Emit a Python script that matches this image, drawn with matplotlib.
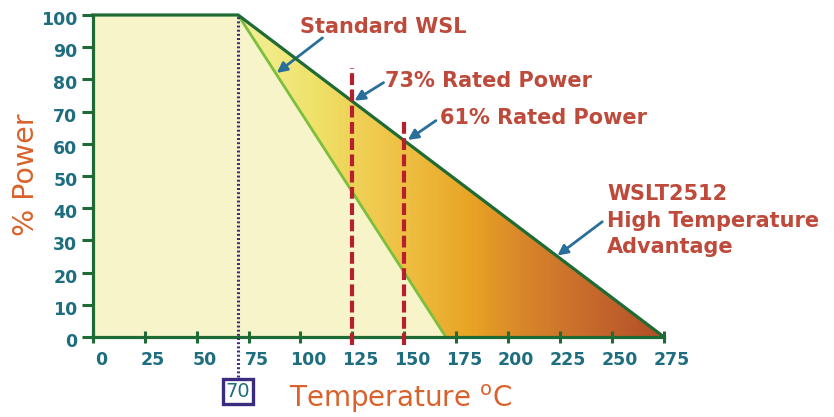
import numpy as np
import matplotlib
matplotlib.use("Agg")
import matplotlib.pyplot as plt
from matplotlib.colors import LinearSegmentedColormap
from matplotlib.patches import Polygon
from matplotlib.transforms import ScaledTranslation

# ---- data ----
wslt_temp = [0, 70, 275]
wslt_power = [100, 100, 0]
std_temp = [70, 170]
std_power = [100, 0]
marker_temps = [125, 150]
marker_tops = [83.5, 67.5]
knee_temp = 70
xticks = [0, 25, 50, 75, 100, 125, 150, 175, 200, 225, 250, 275]
yticks = [0, 10, 20, 30, 40, 50, 60, 70, 80, 90, 100]

# ---- style ----
DARK_GREEN = "#1e6b35"
LIGHT_GREEN = "#7dbe3c"
TEAL = "#1e6e80"
ORANGE = "#d9622b"
RED_TXT = "#bd4a3b"
RED_DASH = "#b81f2e"
BLUE = "#2a6e9a"
PURPLE = "#3a2a80"
PALE = "#f6f4c8"

plt.rcParams['lines.scale_dashes'] = False
plt.rcParams['font.family'] = ['DejaVu Sans']

fig = plt.figure(figsize=(8.34, 4.17), dpi=100)
L, R, B, T = 92.7 / 834, 664 / 834, (417 - 337) / 417, (417 - 15) / 417
ax = fig.add_axes([L, B, R - L, T - B])
ax.set_xlim(0, 275)
ax.set_ylim(0, 100)
ax.patch.set_alpha(0)

# pale fill under the standard curve
pale_poly = Polygon([(0, 0), (0, 100), (std_temp[0], std_power[0]),
                     (std_temp[1], std_power[1])], closed=True,
                    fc=PALE, ec='none', zorder=1)
ax.add_patch(pale_poly)

# gradient advantage region
adv_poly = Polygon([(wslt_temp[1], wslt_power[1]), (wslt_temp[2], wslt_power[2]),
                    (std_temp[1], std_power[1])], closed=True,
                   fc='none', ec='none', zorder=1)
ax.add_patch(adv_poly)
stops = [(0.00, (243, 240, 155)), (0.18, (239, 226, 105)), (0.27, (240, 210, 88)),
         (0.40, (238, 190, 65)), (0.55, (232, 163, 36)), (0.67, (216, 134, 42)),
         (0.78, (204, 114, 44)), (0.90, (190, 94, 42)), (1.00, (178, 76, 38))]
cmap = LinearSegmentedColormap.from_list(
    "adv", [(p, tuple(c / 255 for c in col)) for p, col in stops])
grad = np.linspace(0, 1, 512).reshape(1, -1)
im = ax.imshow(grad, cmap=cmap, aspect='auto',
               extent=(wslt_temp[1], wslt_temp[2], 0, 100), zorder=1.5,
               interpolation='bilinear')
im.set_clip_path(adv_poly)
ax.set_xlim(0, 275)
ax.set_ylim(0, 100)

# curves
ax.plot(std_temp, std_power, color=LIGHT_GREEN, lw=2.0, zorder=3,
        solid_capstyle='butt')
ax.plot(wslt_temp, wslt_power, color=DARK_GREEN, lw=2.3, zorder=4,
        clip_on=False, solid_joinstyle='miter')

# red dashed markers
for xt, top in zip(marker_temps, marker_tops):
    ax.plot([xt, xt], [-2.5, top], color=RED_DASH, lw=3.0,
            linestyle=(0, (8.5, 3.2)), zorder=5, clip_on=False)

# dotted knee line
ax.plot([knee_temp, knee_temp], [-12.4, 100], color=PURPLE, lw=2.2,
        linestyle=(0, (1.4, 1.6)), zorder=5, clip_on=False)
ax.text(knee_temp, -16.9, str(knee_temp), ha='center', va='center',
        fontsize=14, color=TEAL,
        bbox=dict(boxstyle='square,pad=0.15', fc='white', ec=PURPLE, lw=2.4),
        zorder=6, clip_on=False)

# spines and ticks
for s in ['top', 'right']:
    ax.spines[s].set_visible(False)
for s in ['left', 'bottom']:
    ax.spines[s].set_color(DARK_GREEN)
    ax.spines[s].set_linewidth(2.3)
    ax.spines[s].set_zorder(4)
ax.set_xticks(xticks)
ax.set_yticks(yticks)
ax.tick_params(axis='x', direction='inout', length=8.5, width=2.2,
               color=DARK_GREEN, labelcolor=TEAL, labelsize=12.5, pad=6)
ax.tick_params(axis='y', direction='out', length=8, width=2.2,
               color=DARK_GREEN, labelcolor=TEAL, labelsize=12.5, pad=3)
for t in ax.xaxis.get_major_ticks():
    t.label1.set_fontweight('bold')
    t.label1.set_transform(t.label1.get_transform() +
                           ScaledTranslation(8 / 100, 0, fig.dpi_scale_trans))
for t in ax.yaxis.get_major_ticks():
    t.label1.set_fontweight('bold')
    t.label1.set_transform(t.label1.get_transform() +
                           ScaledTranslation(0, -3 / 100, fig.dpi_scale_trans))

ax.set_xlabel("Temperature $^{\\mathregular{o}}$C", fontsize=20, color=ORANGE)
ax.xaxis.set_label_coords((400.5 - 92.7) / 571.3, (337 - 383) / 322)
ax.set_ylabel("% Power", fontsize=20.5, color=ORANGE)
ax.yaxis.set_label_coords((40 - 92.7) / 571.3, (337 - 175) / 322)

# annotations
afs = 15
ap = dict(arrowstyle='-|>,head_length=0.6,head_width=0.3', color=BLUE, lw=2.0,
          shrinkA=0, shrinkB=0)
ax.text(99.8, 94.4, "Standard WSL", fontsize=afs, fontweight='bold',
        color=RED_TXT, va='baseline', clip_on=False)
ax.annotate("", xy=(88.6, 82), xytext=(110.6, 92.9), arrowprops=ap,
            annotation_clip=False)
ax.text(140.5, 77.6, "73% Rated Power", fontsize=afs, fontweight='bold',
        color=RED_TXT, va='baseline', clip_on=False)
ax.annotate("", xy=(126, 73.4), xytext=(140, 79), arrowprops=ap,
            annotation_clip=False)
ax.text(167, 66.1, "61% Rated Power", fontsize=afs, fontweight='bold',
        color=RED_TXT, va='baseline', clip_on=False)
ax.annotate("", xy=(151.7, 61.2), xytext=(165.2, 67.2), arrowprops=ap,
            annotation_clip=False)
for txt, yb in zip(["WSLT2512", "High Temperature", "Advantage"],
                   [42.5, 34.3, 26.1]):
    ax.text(247.7, yb, txt, fontsize=afs, fontweight='bold', color=RED_TXT,
            va='baseline', clip_on=False)
ax.annotate("", xy=(223.7, 25.3), xytext=(245.3, 35.8), arrowprops=ap,
            annotation_clip=False)

fig.savefig("out.png", dpi=100)
